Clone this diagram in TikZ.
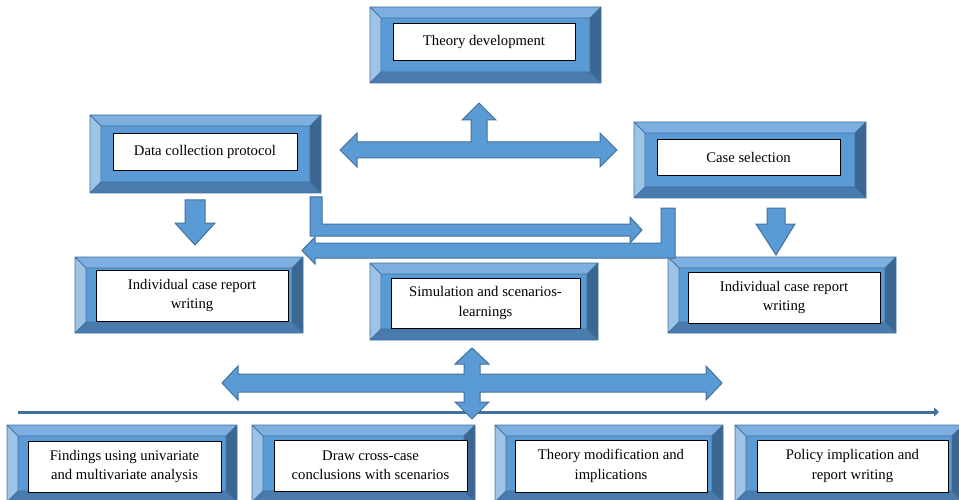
\documentclass[tikz,border=0pt]{standalone}
\usepackage{fontspec}
\setmainfont{Liberation Serif}
\usetikzlibrary{arrows.meta}
\definecolor{face}{HTML}{5B9BD5}
\definecolor{edge}{HTML}{41719C}
\definecolor{btop}{HTML}{7DAFE0}
\definecolor{bleft}{HTML}{9DC3E6}
\definecolor{bright}{HTML}{3B6792}
\definecolor{bbot}{HTML}{4A7BAF}
\tikzset{
 wbox/.style={draw=black, line width=0.8pt, fill=white, inner sep=0pt, align=center, font=\fontsize{14.7}{19.5}\selectfont},
 blockarrow/.style={fill=face, draw=edge, line width=1pt, line join=miter},
 bevedge/.style={draw=edge, line width=0.8pt},
 longline/.style={draw=edge, line width=3pt, -{Triangle[length=5pt,width=9pt]}}
}
\newcommand\bevel[4]{%
 \fill[face] (#1,#2) rectangle (#3,#4);
 \fill[btop] (#1,#2) -- (#3,#2) -- (#3-11,#2+11) -- (#1+11,#2+11) -- cycle;
 \fill[bleft] (#1,#2) -- (#1+11,#2+11) -- (#1+11,#4-11) -- (#1,#4) -- cycle;
 \fill[bright] (#3,#2) -- (#3,#4) -- (#3-11,#4-11) -- (#3-11,#2+11) -- cycle;
 \fill[bbot] (#1,#4) -- (#3,#4) -- (#3-11,#4-11) -- (#1+11,#4-11) -- cycle;
 \draw[bevedge] (#1,#2) rectangle (#3,#4) (#1+11,#2+11) rectangle (#3-11,#4-11)
   (#1,#2) -- (#1+11,#2+11) (#3,#2) -- (#3-11,#2+11) (#1,#4) -- (#1+11,#4-11) (#3,#4) -- (#3-11,#4-11);
}
\newcommand\wnode[6]{\node[wbox, minimum width={(#4-#2)*1pt}, minimum height={(#5-#3)*1pt}] (#1) at ({(#2+#4)/2},{(#3+#5)/2}) {#6};}
\begin{document}
\begin{tikzpicture}[x=1pt,y=-1pt]
\useasboundingbox (0,0) rectangle (959,500);
\clip (0,0) rectangle (959,500);
% boxes
\bevel{370}{7}{601}{83}
\wnode{td}{393}{23}{575}{60}{Theory development}
\bevel{90}{115}{321}{193}
\wnode{dcp}{113}{133}{297}{170}{Data collection protocol}
\bevel{634}{122}{866}{198}
\wnode{cs}{657}{139}{840}{175}{Case selection}
\bevel{75}{257}{303}{333}
\wnode{icl}{96}{270}{288}{321}{Individual case report\\writing}
\bevel{370}{263}{598}{340}
\wnode{sim}{391}{278}{580}{328}{Simulation and scenarios-\\learnings}
\bevel{668}{257}{896}{333}
\wnode{icr}{688}{272}{880}{323}{Individual case report\\writing}
\bevel{7}{425}{237}{502}
\wnode{b1}{28}{441}{221}{492}{Findings using univariate\\and multivariate analysis}
\bevel{252}{425}{475}{502}
\wnode{b2}{274}{440}{467}{491}{Draw cross-case\\conclusions with scenarios}
\bevel{495}{425}{723}{502}
\wnode{b3}{515}{440}{707}{492}{Theory modification and\\implications}
\bevel{735}{425}{963}{502}
\wnode{b4}{757}{440}{948}{492}{Policy implication and\\report writing}
% top three-way arrow
\draw[blockarrow] (340,150) -- (357,133) -- (357,142) -- (471,142) -- (471,120) -- (462,120) -- (479,103) -- (496,120) -- (487,120) -- (487,142) -- (600,142) -- (600,133) -- (617,150) -- (600,167) -- (600,158) -- (357,158) -- (357,167) -- cycle;
% bent arrows
\draw[blockarrow] (310,197) -- (322,197) -- (322,224) -- (630,224) -- (630,217) -- (642,230) -- (630,243) -- (630,236) -- (310,236) -- cycle;
\draw[blockarrow] (675,208) -- (661,208) -- (661,243) -- (315,243) -- (315,237) -- (302,250.5) -- (315,264) -- (315,258) -- (675,258) -- cycle;
% down arrows
\draw[blockarrow] (185,200) -- (205,200) -- (205,223) -- (215,223) -- (195,245) -- (175,223) -- (185,223) -- cycle;
\draw[blockarrow] (767,208) -- (785,208) -- (785,224) -- (795,224) -- (776,255) -- (756,224) -- (767,224) -- cycle;
% long line
\coordinate (ls) at (18,412);
\coordinate (le) at (939,412);
\draw[longline] (ls) -- (le);
% four-way arrow
\draw[blockarrow] (222,383) -- (238,366) -- (238,374) -- (464,374) -- (464,364) -- (455,364) -- (472,348) -- (489,364) -- (480,364) -- (480,374) -- (706,374) -- (706,366) -- (722,383) -- (706,400) -- (706,392) -- (480,392) -- (480,402) -- (489,402) -- (472,419) -- (455,402) -- (464,402) -- (464,392) -- (238,392) -- (238,400) -- cycle;
\end{tikzpicture}
\end{document}
